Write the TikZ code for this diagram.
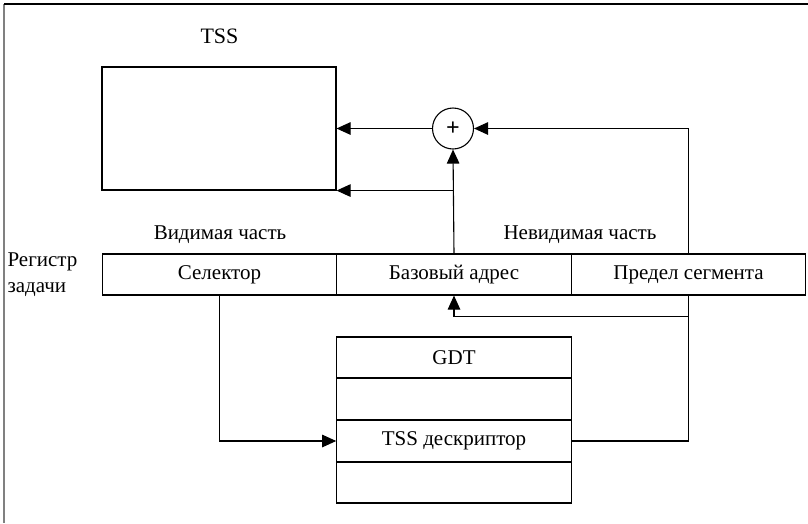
\documentclass[tikz,border=0pt]{standalone}
\usepackage{fontspec}
\setmainfont{Liberation Serif}
\usetikzlibrary{arrows.meta}

\begin{document}
\begin{tikzpicture}[x=1pt,y=-1pt,
  font=\fontsize{21}{26}\selectfont,
  every path/.style={line width=1.1pt},
  cell/.style={draw, inner sep=0pt, minimum width=234.5pt, minimum height=41pt},
  arr/.style={-{Triangle[length=14pt,width=12.5pt]}},
  lbl/.style={inner sep=0pt, anchor=base}
]
\useasboundingbox (0,0) rectangle (808,523);

% outer frame (only the top and left edges show)
\draw[gray, line width=2pt] (4,4) -- (4,523);
\draw[black, line width=1.5pt] (4,4) -- (808,4);

% TSS segment
\node[lbl, font=\fontsize{22}{26}\selectfont] (tsslbl) at (219.5,43) {TSS};
\node[draw, inner sep=0pt, minimum width=234pt, minimum height=123pt] (tss) at (219,128.5) {};

% adder
\node[draw, circle, inner sep=0pt, minimum size=41pt, font=\fontsize{24}{26}\selectfont\bfseries] (plus) at (453,128.5) {+};

% task register
\node[cell] (sel)  at (219.5,274.5) {Селектор};
\node[cell] (base) at (454,274.5) {Базовый адрес};
\node[cell] (lim)  at (688.5,274.5) {Предел сегмента};

\node[lbl] (vis)   at (220,239) {Видимая часть};
\node[lbl] (invis) at (580,239) {Невидимая часть};
\node[inner sep=0pt, anchor=west, align=left] (reg) at (7,274.5) {Регистр\\задачи};

% GDT
\node[cell] (gdt)  at (454,357.5) {GDT};
\node[cell] (g1)   at (454,399)   {};
\node[cell] (desc) at (454,441)   {TSS дескриптор};
\node[cell] (g3)   at (454,482.5) {};

% connectors
\coordinate (rt) at (lim.north |- plus.east);
\draw[arr] (plus.west) -- (plus.west -| tss.east);
\draw[arr] (rt) -- (plus.east);
\draw (rt) -- (lim.north);
\draw[arr] (base.north) -- (plus.south);
\draw[arr] (base.north |- tss.south) -- (tss.south east);
\draw[arr] (lim.south) -- ++(0,21) -| (base.south);
\draw (desc.east) -| (lim.south);
\draw[arr] (sel.south) |- (desc.west);
\end{tikzpicture}
\end{document}
